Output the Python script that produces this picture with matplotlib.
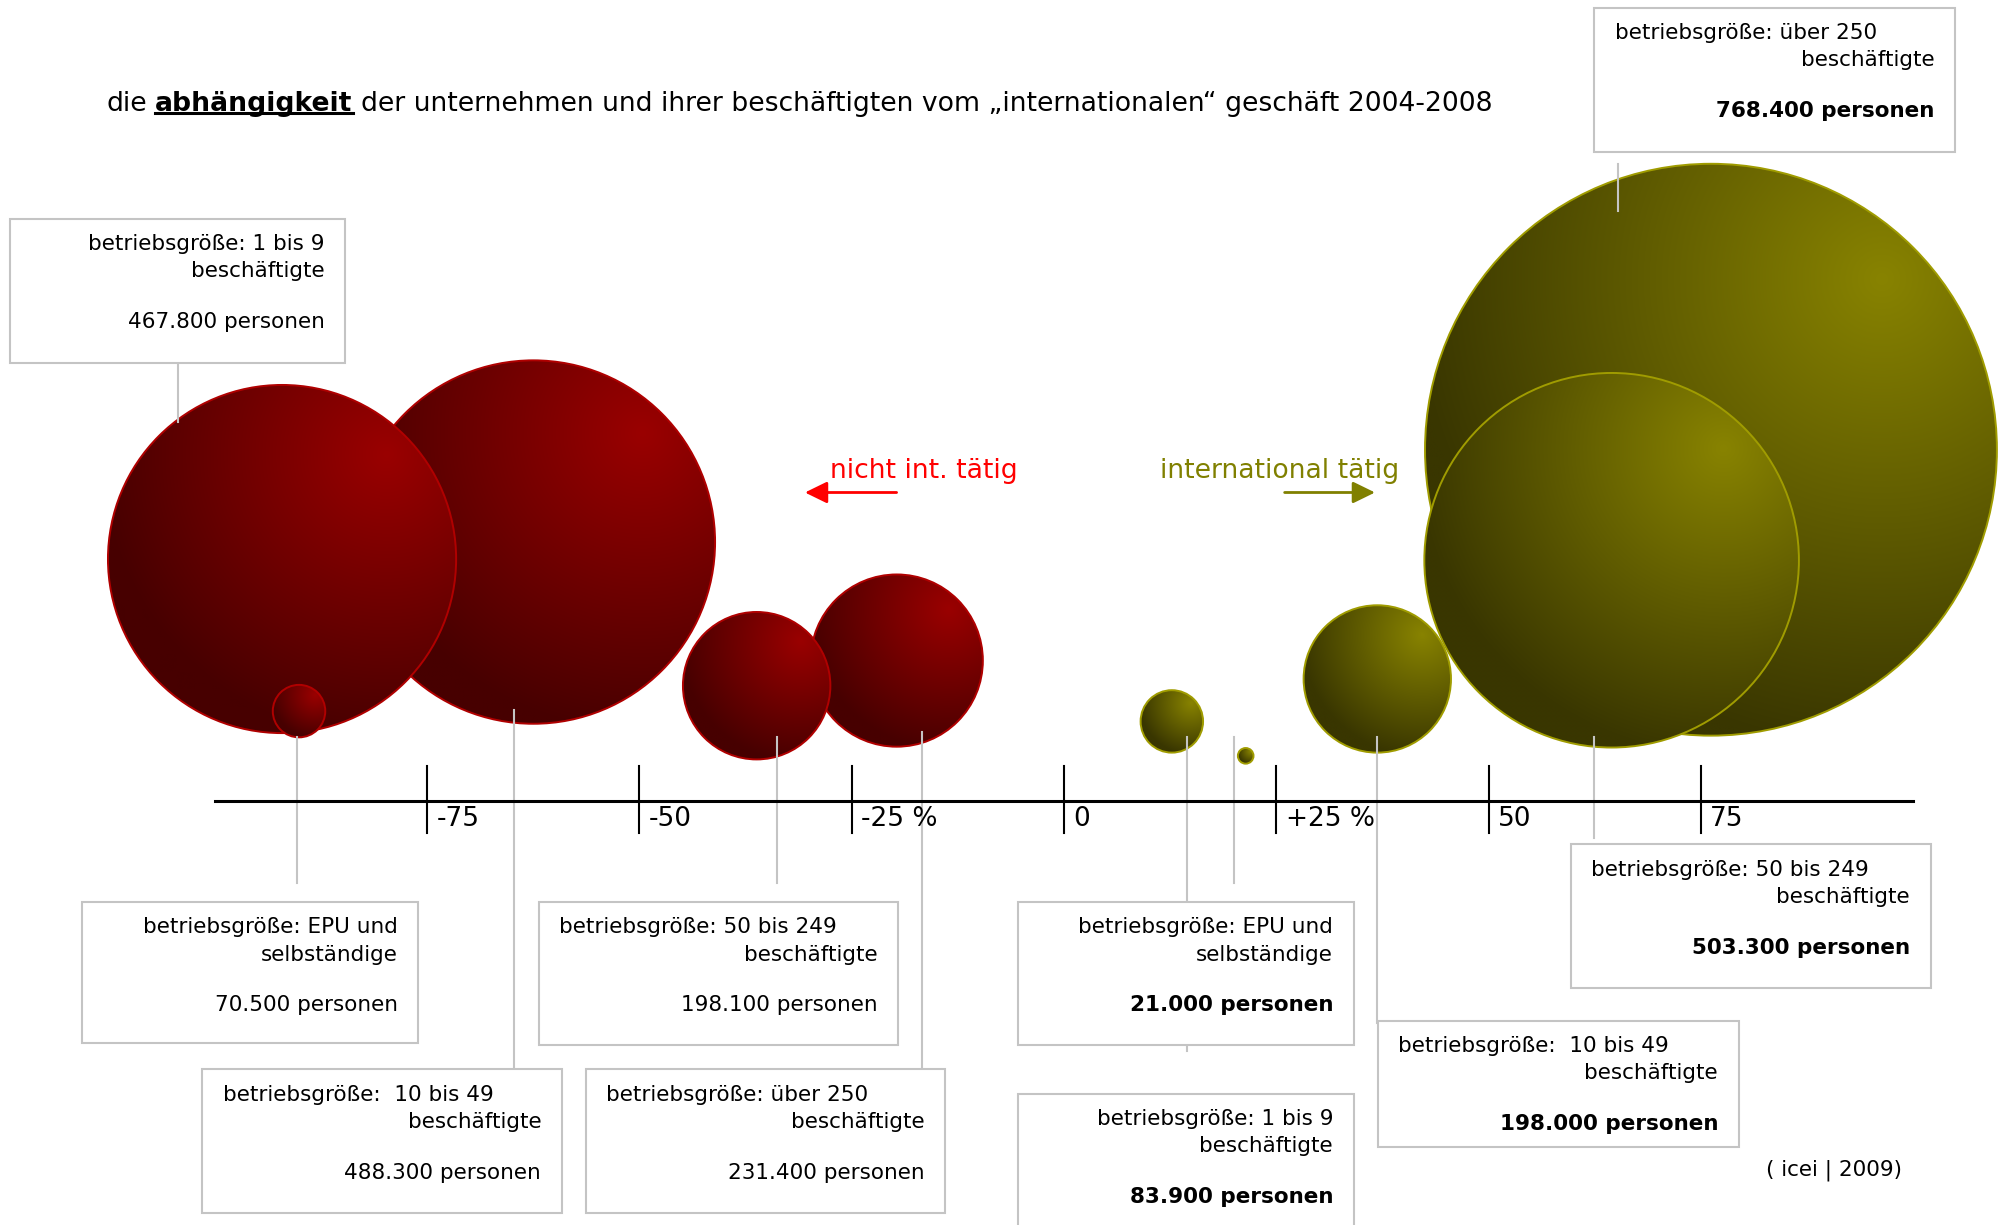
import numpy as np
import matplotlib.pyplot as plt
from matplotlib.patches import Circle, Rectangle
from matplotlib.colors import to_rgb

# share of firms by size, 2004-2008 (persons in thousands, change in %)
groups = ["EPU und selbständige", "1 bis 9", "10 bis 49", "50 bis 249", "über 250"]
line1 = ["betriebsgröße: EPU und", "betriebsgröße: 1 bis 9", "betriebsgröße:  10 bis 49",
         "betriebsgröße: 50 bis 249", "betriebsgröße: über 250"]
line2 = ["selbständige", "beschäftigte", "beschäftigte", "beschäftigte", "beschäftigte"]

persons_nicht = [70.5, 467.8, 488.3, 198.1, 231.4]
change_nicht = [-90.1, -92.1, -62.5, -36.2, -19.7]
persons_int = [21.0, 83.9, 198.0, 503.3, 768.4]
change_int = [21.4, 12.7, 36.9, 64.5, 76.2]

ticks = [-75, -50, -25, 0, 25, 50, 75]
tick_labels = ["-75", "-50", "-25 %", "0", "+25 %", "50", "75"]

# layout (axis units, 1 unit = 1 %)
bottom_nicht = [7.5, 8.0, 9.1, 4.9, 6.4]
leader_dx_nicht = [-0.2, -12.3, -2.3, 2.4, 3.0]
leader_y_nicht = [(7.5, -9.6), (51.5, 44.6), (10.7, -31.5), (7.5, -9.6), (8.1, -31.5)]
box_nicht = [(-115.68, -11.88, -76.05, -28.46), (-124.11, 68.58, -84.64, 51.56),
             (-101.51, -31.62, -59.17, -48.50), (-61.88, -11.88, -19.54, -28.76),
             (-56.31, -31.62, -13.96, -48.50)]

bottom_int = [4.4, 5.7, 5.7, 6.3, 7.7]
leader_dx_int = [-1.4, 1.8, 0.0, -2.1, -11.0]
leader_y_int = [(7.5, -9.6), (7.5, -29.5), (7.5, -26.2), (7.5, -4.4), (75.0, 69.5)]
box_int = [(-5.38, -11.88, 34.10, -28.76), (-5.38, -34.48, 34.10, -53.0),
           (36.96, -25.89, 79.45, -40.81), (59.71, -5.10, 102.06, -21.98),
           (62.43, 93.45, 104.92, 76.43)]
first_left = [False, False, True, True, True]

RADIUS_SCALE = 0.04383   # units per thousand persons
RED = ("#470000", "#9a0000", "#b00000")
OLIVE = ("#393600", "#888300", "#a09c00")
GREY = "#c4c4c4"
BOX_FS = 15.5

fig = plt.figure(figsize=(20.06, 12.25), dpi=100)
ax = fig.add_axes([0, 0, 1, 1])
ax.set_xlim(-125.32, 110.95)
ax.set_ylim(-49.94, 94.35)
ax.axis('off')


def bubble(x, y0, r, colors, z):
    dark, bright, edge = colors
    cy = y0 + r
    g = np.linspace(-1, 1, 300)
    gx, gy = np.meshgrid(g, g)
    t = np.clip(1 - np.hypot(gx - 0.6, gy - 0.6) / 1.65, 0, 1)
    d = np.array(to_rgb(dark))
    b = np.array(to_rgb(bright))
    img = d + t[..., None] * (b - d)
    im = ax.imshow(img, extent=(x - r, x + r, cy - r, cy + r), origin='lower',
                   aspect='auto', zorder=z, interpolation='bilinear')
    c = Circle((x, cy), r, facecolor='none', edgecolor=edge, lw=1.4, zorder=z + 0.1)
    ax.add_patch(c)
    im.set_clip_path(c)


def label_box(rect, i, value, bold):
    x0, y0, x1, y1 = rect
    ax.add_patch(Rectangle((x0, y1), x1 - x0, y0 - y1, facecolor='white',
                           edgecolor=GREY, lw=1.5, zorder=30))
    pad = 2.41
    if first_left[i]:
        ax.text(x0 + pad, y0 - 3.0, line1[i], ha='left', va='center', fontsize=BOX_FS, zorder=31)
    else:
        ax.text(x1 - pad, y0 - 3.0, line1[i], ha='right', va='center', fontsize=BOX_FS, zorder=31)
    ax.text(x1 - pad, y0 - 6.2, line2[i], ha='right', va='center', fontsize=BOX_FS, zorder=31)
    txt = f"{value * 1000:,.0f}".replace(",", ".") + " personen"
    ax.text(x1 - pad, y0 - 12.2, txt, ha='right', va='center', fontsize=BOX_FS,
            fontweight='bold' if bold else 'normal', zorder=31)


# bubbles, biggest first so the smaller ones sit on top
for persons, change, bottoms, colors in [(persons_nicht, change_nicht, bottom_nicht, RED),
                                          (persons_int, change_int, bottom_int, OLIVE)]:
    order = np.argsort(persons)[::-1]
    for k, i in enumerate(order):
        bubble(change[i], bottoms[i], persons[i] * RADIUS_SCALE, colors, 2 + k)

# leader lines
for change, dx, ly in [(change_nicht, leader_dx_nicht, leader_y_nicht),
                       (change_int, leader_dx_int, leader_y_int)]:
    for i in range(len(groups)):
        ax.plot([change[i] + dx[i]] * 2, ly[i], color=GREY, lw=1.5, zorder=20)

# axis
ax.plot([-100, 100], [0, 0], color='black', lw=2.2, zorder=25)
for t, lab in zip(ticks, tick_labels):
    ax.plot([t, t], [4.07, -3.77], color='black', lw=1.5, zorder=25)
    ax.text(t + 1.1, -2.1, lab, ha='left', va='center', fontsize=19, zorder=25)

# boxes
for i in range(len(groups)):
    label_box(box_nicht[i], i, persons_nicht[i], False)
    label_box(box_int[i], i, persons_int[i], True)

# direction arrows
ax.text(-27.53, 38.9, "nicht int. tätig", color='#ff0000', fontsize=19.2, ha='left', va='center')
ax.annotate("", xy=(-30.84, 36.34), xytext=(-19.39, 36.34),
            arrowprops=dict(arrowstyle='-|>,head_length=0.45,head_width=0.22', mutation_scale=30,
                            color='#ff0000', lw=2))
ax.text(11.35, 38.9, "international tätig", color='#808000', fontsize=19.2, ha='left', va='center')
ax.annotate("", xy=(36.96, 36.34), xytext=(25.66, 36.34),
            arrowprops=dict(arrowstyle='-|>,head_length=0.45,head_width=0.22', mutation_scale=30,
                            color='#808000', lw=2))

# title with bold underlined word
TITLE_FS = 19.2
t1 = ax.text(-112.81, 82.14, "die", fontsize=TITLE_FS, ha='left', va='center')
t2 = ax.annotate("abhängigkeit", xy=(1, 0), xycoords=t1, xytext=(6.1, 0), textcoords='offset points',
                 fontsize=TITLE_FS, fontweight='bold', ha='left', va='bottom')
t3 = ax.annotate("der unternehmen und ihrer beschäftigten vom \u201einternationalen\u201c geschäft 2004-2008",
                 xy=(1, 0), xycoords=t2, xytext=(6.1, 0), textcoords='offset points',
                 fontsize=TITLE_FS, ha='left', va='bottom')
fig.canvas.draw()
bb = t2.get_window_extent()
inv = ax.transData.inverted()
(ux0, uy), (ux1, _) = inv.transform([(bb.x0, bb.y0 + 3.5), (bb.x1, bb.y0 + 3.5)])
ax.plot([ux0, ux1], [uy, uy], color='black', lw=2.2)

ax.text(98.74, -43.52, "( icei | 2009)", ha='right', va='center', fontsize=15.5)

fig.savefig("out.png", dpi=100)
